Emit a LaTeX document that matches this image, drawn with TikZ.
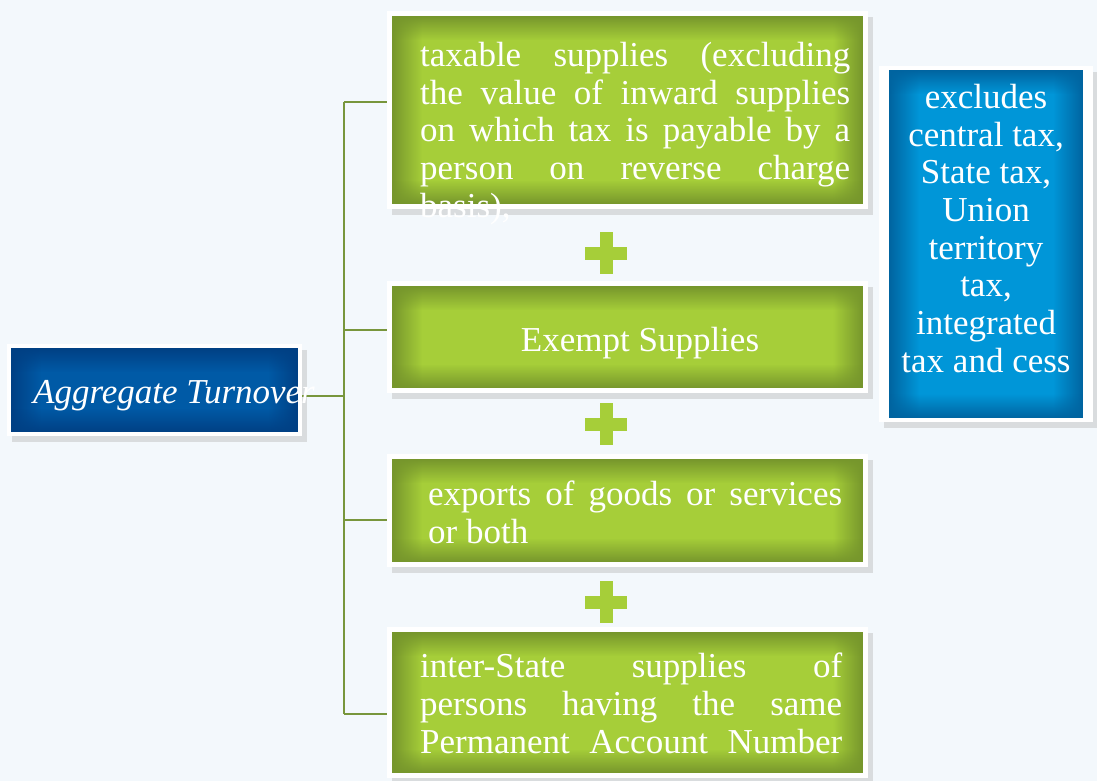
\documentclass[tikz,border=0pt]{standalone}
\usepackage{fontspec}
\setmainfont{Liberation Serif}
\usepackage{tikz}
\usetikzlibrary{calc,fadings,shadows}

\definecolor{page}{RGB}{243,248,252}
\definecolor{leaf}{RGB}{166,206,57}
\definecolor{leafdark}{RGB}{118,150,44}
\definecolor{navy}{RGB}{0,90,166}
\definecolor{navydark}{RGB}{0,64,132}
\definecolor{sky}{RGB}{0,150,216}
\definecolor{skydark}{RGB}{0,100,160}
\definecolor{stem}{RGB}{120,150,60}

\tikzfading[name=fromleft, left color=transparent!0, right color=transparent!100]
\tikzfading[name=fromright, left color=transparent!100, right color=transparent!0]
\tikzfading[name=fromtop, top color=transparent!0, bottom color=transparent!100]
\tikzfading[name=frombottom, top color=transparent!100, bottom color=transparent!0]

% inner panel with darker rim, used as path picture
\newcommand\glowfill[4]{%
  \coordinate (gNW) at ([shift={(#3,#4)}]path picture bounding box.north west);
  \coordinate (gSE) at ([shift={(-#3,-#4)}]path picture bounding box.south east);
  \fill[#1] (gNW) rectangle (gSE);
  \fill[#2, path fading=fromleft] (gNW) rectangle ($(gNW|-gSE)+(30,0)$);
  \fill[#2, path fading=fromright] ($(gSE|-gNW)+(-30,0)$) rectangle (gSE);
  \fill[#2, path fading=fromtop] (gNW) rectangle ($(gSE|-gNW)+(0,24)$);
  \fill[#2, path fading=frombottom] ($(gNW|-gSE)+(0,-24)$) rectangle (gSE);
}

\tikzset{
  card/.style={rectangle, fill=white, inner sep=0pt,
    drop shadow={shadow xshift=5pt, shadow yshift=-6pt, fill=black!30, opacity=.4}},
  greencard/.style={card, minimum width=481pt, path picture={\glowfill{leaf}{leafdark}{5}{5}}},
  bluecard/.style={card, path picture={\glowfill{navy}{navydark}{4}{4}}},
  skycard/.style={card, path picture={\glowfill{sky}{skydark}{10}{4}}},
  cardtext/.style={text=white, inner sep=0pt, font=\fontsize{35}{37.7}\selectfont},
  branch/.style={draw=stem, line width=1.3pt},
  plussign/.style={fill=leaf},
}

\begin{document}
\begin{tikzpicture}[x=1pt,y=-1pt]
\useasboundingbox (0,0) rectangle (1097,781);
\fill[page] (0,0) rectangle (1097,781);

% boxes
\node[bluecard, minimum width=295pt, minimum height=92pt] (agg) at (154.5,390) {};
\node[greencard, minimum height=198pt] (taxable) at (627.5,110) {};
\node[greencard, minimum height=112pt] (exempt) at (627.5,337) {};
\node[greencard, minimum height=113pt] (exports) at (627.5,510.5) {};
\node[greencard, minimum height=151pt] (interstate) at (627.5,702.5) {};
\node[skycard, minimum width=214pt, minimum height=356pt] (excl) at (986,244) {};

% plus signs
\foreach \py in {253,424,602}{
  \fill[plussign] (585,\py-6.5) rectangle (627,\py+6.5);
  \fill[plussign] (599.5,\py-21) rectangle (612.5,\py+21);
}

% connectors
\coordinate (hub) at (344,396);
\coordinate (j1) at (344,102);
\coordinate (j2) at (344,330);
\coordinate (j3) at (344,520);
\coordinate (j4) at (344,714);
\draw[branch] (agg.east |- hub) -- (hub);
\draw[branch] (j1) -- (j4);
\draw[branch] (j1) -- (j1 -| taxable.west);
\draw[branch] (j2) -- (j2 -| exempt.west);
\draw[branch] (j3) -- (j3 -| exports.west);
\draw[branch] (j4) -- (j4 -| interstate.west);

% texts
\node[cardtext, font=\fontsize{35}{37.7}\selectfont\itshape, anchor=base west] (aggtext) at (33,403) {Aggregate Turnover};
\node[cardtext, anchor=north west, align=left] (taxtext) at (420,42) {%
\makebox[430pt][s]{taxable supplies (excluding}\\
\makebox[430pt][s]{the value of inward supplies}\\
\makebox[430pt][s]{on which tax is payable by a}\\
\makebox[430pt][s]{person on reverse charge}\\
basis),};
\node[cardtext, anchor=base] (exempttext) at (640,351) {Exempt Supplies};
\node[cardtext, anchor=north west, align=left] (exptext) at (428,481) {%
\makebox[414pt][s]{exports of goods or services}\\
or both};
\node[cardtext, anchor=north west, align=left] (intertext) at (420,653) {%
\makebox[422pt][s]{inter-State supplies of}\\
\makebox[422pt][s]{persons having the same}\\
\makebox[422pt][s]{Permanent Account Number}};
\node[cardtext, anchor=north, align=center] (excltext) at (986,84) {%
excludes\\ central tax,\\ State tax,\\ Union\\ territory\\ tax,\\ integrated\\ tax and cess};
\end{tikzpicture}
\end{document}
